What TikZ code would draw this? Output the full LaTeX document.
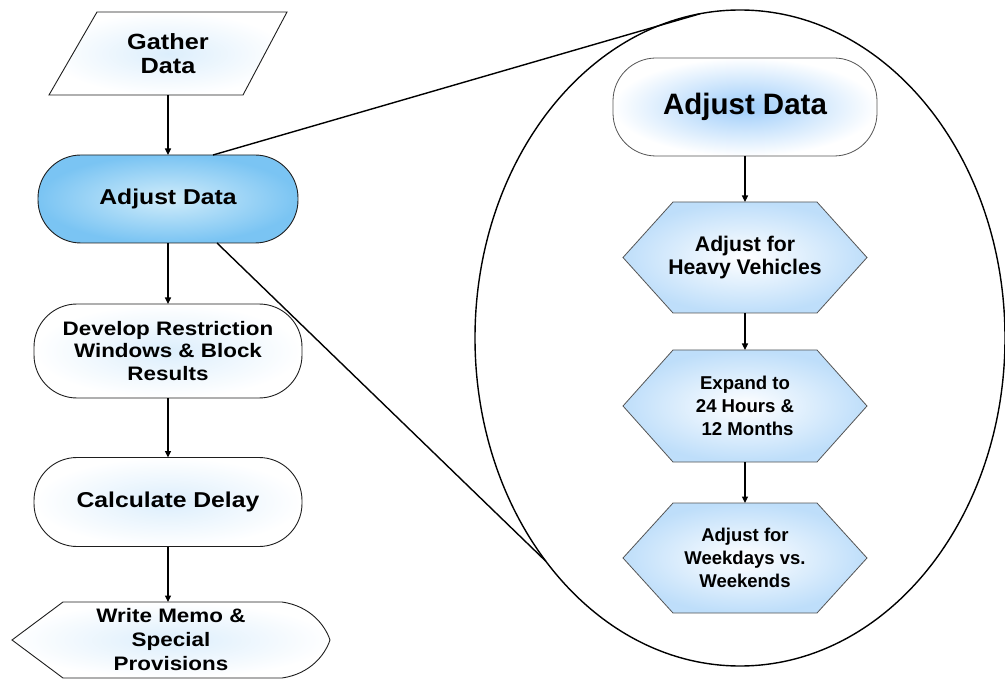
\documentclass[tikz,border=0pt]{standalone}
\usepackage{fontspec}
\setmainfont{Liberation Sans}
\newfontfamily\widefont[FakeStretch=1.15]{Liberation Sans}
\usetikzlibrary{shapes.geometric,arrows.meta,calc}
\pgfdeclarelayer{bg}
\pgfsetlayers{bg,main}

\definecolor{edgeblue}{RGB}{122,196,243}
\definecolor{coreblue}{RGB}{208,236,250}
\definecolor{paleblue}{RGB}{220,238,252}
\definecolor{hexblue}{RGB}{190,222,250}
\definecolor{keyblue}{RGB}{158,205,250}
\definecolor{outline}{RGB}{30,30,30}
\definecolor{softline}{RGB}{85,85,85}

\tikzset{
  lbl/.style={align=center, text=black, inner sep=0pt, outer sep=0pt},
  leftfont/.style={font=\widefont\bfseries\fontsize{#1}{24}\selectfont},
  rightfont/.style={font=\bfseries\fontsize{#1}{23}\selectfont},
  frame/.style={draw=outline, line width=0.9pt},
  pill/.style={lbl, frame, rounded corners=43pt, shade, inner color=paleblue, outer color=white},
  hexlook/.style={draw=softline, line width=0.8pt, shade, inner color=white, outer color=hexblue},
  paperlook/.style={frame, shade, inner color=paleblue, outer color=white},
  flow/.style={line width=1.2pt, -{Triangle[length=6.5pt,width=6pt]}},
  zoomline/.style={line width=1.4pt},
}

% hexagonal process box drawn behind a named node
\newcommand\hexbox[1]{%
  \begin{pgfonlayer}{bg}
    \path[hexlook] (#1.west) -- ($(#1.north west)+(50,0)$) -- ($(#1.north east)+(-50,0)$)
      -- (#1.east) -- ($(#1.south east)+(-50,0)$) -- ($(#1.south west)+(50,0)$) -- cycle;
  \end{pgfonlayer}}

\begin{document}
\begin{tikzpicture}[x=1pt, y=-1pt]
\useasboundingbox (0,0) rectangle (1005,679);

% ---- main process column ----
\node[lbl, leftfont=22, minimum width=238, minimum height=83] (gather) at (168,53.5) {Gather\\Data};
\begin{pgfonlayer}{bg}
  \path[paperlook] ($(gather.north west)+(48,0)$) -- (gather.north east)
    -- ($(gather.south east)+(-44,0)$) -- (gather.south west) -- cycle;
\end{pgfonlayer}

\node[pill, leftfont=21.5, minimum width=260, minimum height=88,
      inner color=coreblue, outer color=edgeblue] (adjL) at (168,199) {Adjust Data};

\node[pill, minimum width=268, minimum height=94,
      font=\widefont\bfseries\fontsize{19.5}{22.5}\selectfont] (develop) at (168,351)
      {Develop Restriction\\Windows \& Block\\Results};

\node[pill, leftfont=21.5, minimum width=268, minimum height=89] (calc) at (168,502) {Calculate Delay};

\node[lbl, leftfont=19.5, minimum width=318, minimum height=76] (memo) at (171,640)
      {Write Memo \&\\Special\\Provisions};
\begin{pgfonlayer}{bg}
  \path[paperlook] (memo.west) -- ($(memo.north west)+(51,0)$) -- ($(memo.north east)+(-48,0)$)
    .. controls ($(memo.north east)+(-20,4)$) and ($(memo.east)+(-5,-15)$) .. (memo.east)
    .. controls ($(memo.east)+(-5,15)$) and ($(memo.south east)+(-20,-4)$) .. ($(memo.south east)+(-48,0)$)
    -- ($(memo.south west)+(51,0)$) -- cycle;
\end{pgfonlayer}

\draw[flow] (gather.south) -- (adjL.north);
\draw[flow] (adjL.south) -- (develop.north);
\draw[flow] (develop.south) -- (calc.north);
\draw[flow] (calc.south) -- (calc.south |- memo.north);

% ---- magnified detail of the adjustment step ----
\node[draw, ellipse, zoomline, minimum width=530, minimum height=656, inner sep=0pt, outer sep=0pt]
      (lens) at (740,338) {};

\node[pill, rightfont=29.5, minimum width=264, minimum height=98,
      draw=softline, line width=0.8pt, inner color=keyblue, outer color=white] (adjR) at (745,107) {Adjust Data};

\node[lbl, rightfont=21.2, minimum width=244, minimum height=111] (hexA) at (745,257.5)
      {Adjust for\\Heavy Vehicles};
\hexbox{hexA}
\node[lbl, rightfont=18.6, minimum width=244, minimum height=112] (hexB) at (745,406)
      {Expand to\\24 Hours \&\\\ 12 Months};
\hexbox{hexB}
\node[lbl, rightfont=18.5, minimum width=244, minimum height=110] (hexC) at (745,558)
      {Adjust for\\Weekdays vs.\\Weekends};
\hexbox{hexC}

\draw[flow] (adjR.south) -- (hexA.north);
\draw[flow] (hexA.south) -- (hexB.north);
\draw[flow] (hexB.south) -- (hexC.north);

% ---- zoom rays from the small step to the detail view ----
\coordinate (rayTop) at ($(adjL.north)+(45,0)$);
\coordinate (rayBot) at ($(adjL.south)+(49,0)$);
\draw[zoomline] (rayTop) -- (lens.97);
\draw[zoomline] (rayBot) -- (lens.229.5);
\end{tikzpicture}
\end{document}
